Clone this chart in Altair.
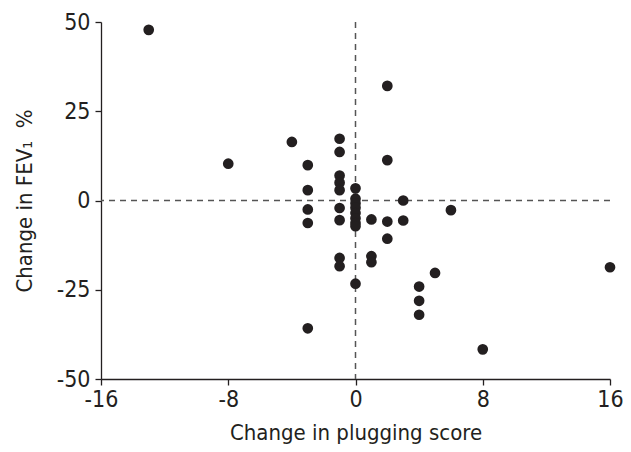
import altair as alt
import pandas as pd

plug_change = [-13, -8, -4,
               -3, -3, -3, -3, -3,
               -1, -1, -1, -1, -1, -1, -1, -1, -1,
               0, 0, 0, 0, 0, 0, 0, 0, 0,
               1, 1, 1,
               2, 2, 2, 2,
               3, 3,
               4, 4, 4,
               5, 6, 8, 16]
fev_change = [47.8, 10.3, 16.4,
              9.9, 2.9, -2.5, -6.3, -35.8,
              17.3, 13.6, 7.0, 5.0, 2.9, -2.1, -5.5, -16.1, -18.4,
              3.4, 0.5, -0.8, -2.0, -3.5, -5.0, -6.3, -7.2, -23.3,
              -5.3, -15.6, -17.3,
              32.1, 11.3, -5.9, -10.7,
              0.0, -5.6,
              -24.1, -28.1, -32.0,
              -20.3, -2.7, -41.7, -18.7]

x_ticks = [-16, -8, 0, 8, 16]
y_ticks = [-50, -25, 0, 25, 50]

df = pd.DataFrame({"x": plug_change, "y": fev_change})

FONT = "DejaVu Sans Condensed, Liberation Sans"
TXT = "#231f20"

xscale = alt.Scale(domain=[-16, 16], nice=False, zero=False)
yscale = alt.Scale(domain=[-50, 50], nice=False, zero=False)

points = alt.Chart(df).mark_circle(size=115, opacity=1, color="#231f20").encode(
    x=alt.X("x:Q", scale=xscale,
            axis=alt.Axis(values=x_ticks, title="Change in plugging score", grid=False,
                          tickSize=6, labelPadding=3, titlePadding=11,
                          labelFlush=False, labelOverlap=False,
                          labelExpr="datum.value + ''")),
    y=alt.Y("y:Q", scale=yscale,
            axis=alt.Axis(values=y_ticks, title="Change in FEV\u2081\u00a0\u00a0%", grid=False,
                          tickSize=6, labelPadding=5, titlePadding=20,
                          labelFlush=False, labelOverlap=False,
                          labelExpr="datum.value + ''")),
)

vline = alt.Chart(pd.DataFrame({"x": [0]})).mark_rule(
    color="#555555", strokeDash=[6, 5], strokeWidth=1.5
).encode(x=alt.X("x:Q", scale=xscale))

hline = alt.Chart(pd.DataFrame({"y": [0]})).mark_rule(
    color="#555555", strokeDash=[6, 5], strokeWidth=1.5
).encode(y=alt.Y("y:Q", scale=yscale))

chart = alt.layer(vline, hline, points).properties(
    width=509, height=357,
    autosize=alt.AutoSizeParams(type="none"),
    padding={"left": 93, "top": 14, "right": 13, "bottom": 72},
).configure_view(stroke=None).configure_axis(
    domainColor=TXT, domainWidth=1.3, tickColor=TXT, tickWidth=1.3,
    labelFont=FONT, labelFontSize=23, labelColor=TXT,
    titleFont=FONT, titleFontSize=22, titleFontWeight="normal", titleColor=TXT,
)

chart.save("out.html", embed_options={"renderer": "svg", "actions": False})
